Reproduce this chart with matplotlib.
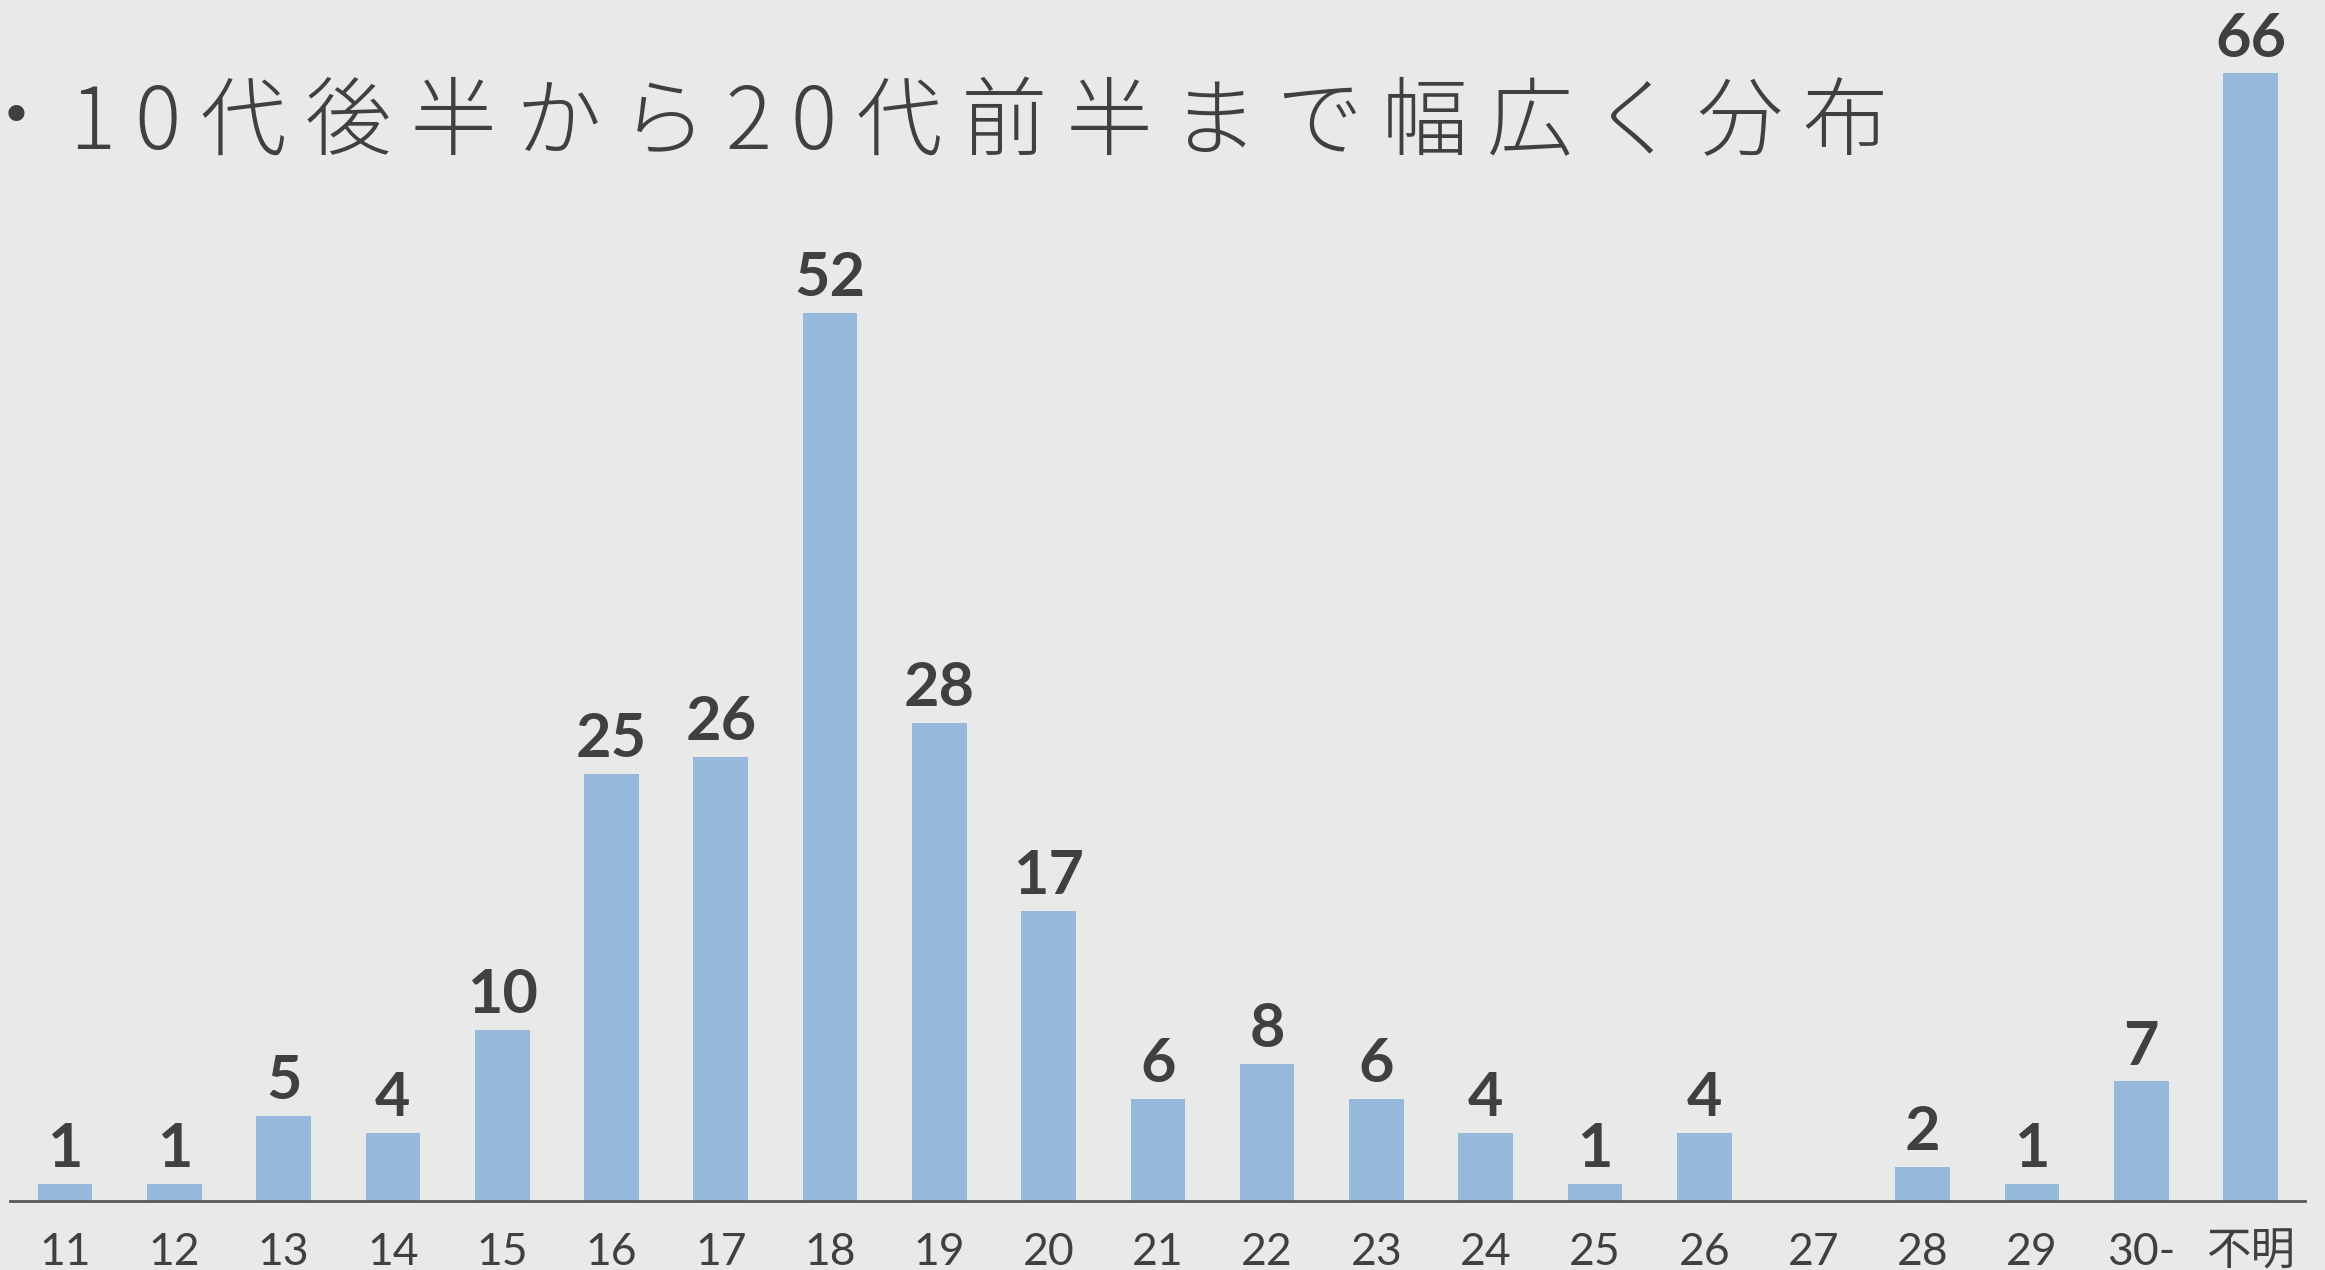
import matplotlib.pyplot as plt

# 年齢別の人数
ages = ['11', '12', '13', '14', '15', '16', '17', '18', '19', '20',
        '21', '22', '23', '24', '25', '26', '27', '28', '29', '30-', '不明']
counts = [1, 1, 5, 4, 10, 25, 26, 52, 28, 17,
          6, 8, 6, 4, 1, 4, 0, 2, 1, 7, 66]

title = '10代後半から20代前半まで幅広く分布'

bg = '#e9e9e9'
bar_color = '#95b8db'
text_color = '#404040'

fig = plt.figure(figsize=(23.25, 12.7), dpi=100, facecolor=bg)
ax = fig.add_axes([0.0045, 0.0543, 0.987, 0.9457])
ax.set_facecolor(bg)

x = list(range(len(ages)))
bars = ax.bar(x, counts, width=0.5, color=bar_color, zorder=2)

# value labels (skip empty category)
for xi, c in zip(x, counts):
    if c == 0:
        continue
    ax.annotate(str(c), (xi, c), xytext=(0, 5), textcoords='offset points',
                ha='center', va='bottom', fontsize=44, fontweight='bold',
                color=text_color, family=['Lato', 'DejaVu Sans'])

ax.set_xlim(-0.5, len(ages) - 0.5)
ax.set_ylim(0, 70.3)
ax.set_xticks(x)
ax.set_xticklabels(ages, fontsize=32, color=text_color, fontweight='normal',
                   family=['Lato', 'Noto Sans CJK JP'])
ax.tick_params(axis='x', length=0, pad=22)
ax.set_yticks([])

for side in ['top', 'left', 'right']:
    ax.spines[side].set_visible(False)
ax.spines['bottom'].set_color('#595959')
ax.spines['bottom'].set_linewidth(2)

# bullet + title with wide letter spacing
fig.text(0.0, 0.906, '•', fontsize=40, color=text_color,
         ha='left', va='center', family='DejaVu Sans')
spaced = ' '.join(title)
fig.text(0.0301, 0.902, spaced, fontsize=62, fontweight='light', color=text_color,
         ha='left', va='center', family=['Noto Sans CJK JP', 'DejaVu Sans'])

fig.savefig('out.png', dpi=100, facecolor=bg)
